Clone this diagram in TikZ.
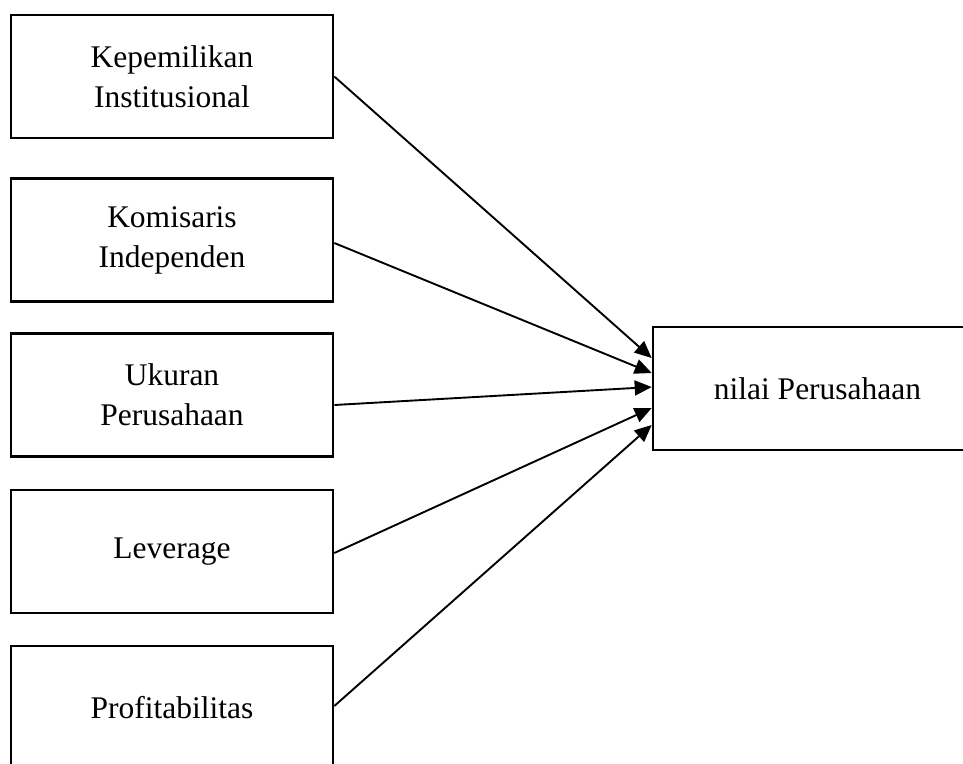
\documentclass[tikz,border=0pt]{standalone}
\usepackage{fontspec}
\setmainfont{Liberation Serif}
\usetikzlibrary{arrows.meta,calc}
\begin{document}
\begin{tikzpicture}[x=1pt,y=-1pt,
  box/.style={draw=black,line width=2.6pt,rectangle,minimum width=322pt,minimum height=123pt,
    inner sep=0pt,align=center,font=\fontsize{31.5}{40}\selectfont},
  conn/.style={line width=1.9pt,-{Triangle[length=17pt,width=15pt]}}]
\useasboundingbox (0,0) rectangle (963,763);
\clip (0,0) rectangle (963,763);
\node[box] (b1) at (172,76.5) {Kepemilikan\\Institusional};
\node[box] (b2) at (172,240) {Komisaris\\Independen};
\node[box] (b3) at (172,395) {Ukuran\\Perusahaan};
\node[box] (b4) at (172,551.5) {Leverage};
\node[box] (b5) at (172,707.5) {Profitabilitas};
\node[box,minimum width=329pt] (t) at (817.5,388.5) {nilai Perusahaan};
\draw[conn] ($(b1.east)+(0,0)$) -- ($(t.west)+(0,-30.5)$);
\draw[conn] ($(b2.east)+(0,3)$) -- ($(t.west)+(0,-15.5)$);
\draw[conn] ($(b3.east)+(0,10)$) -- ($(t.west)+(0,-1.5)$);
\draw[conn] ($(b4.east)+(0,1.5)$) -- ($(t.west)+(0,19.5)$);
\draw[conn] ($(b5.east)+(0,-1.5)$) -- ($(t.west)+(0,36.5)$);
\end{tikzpicture}
\end{document}
